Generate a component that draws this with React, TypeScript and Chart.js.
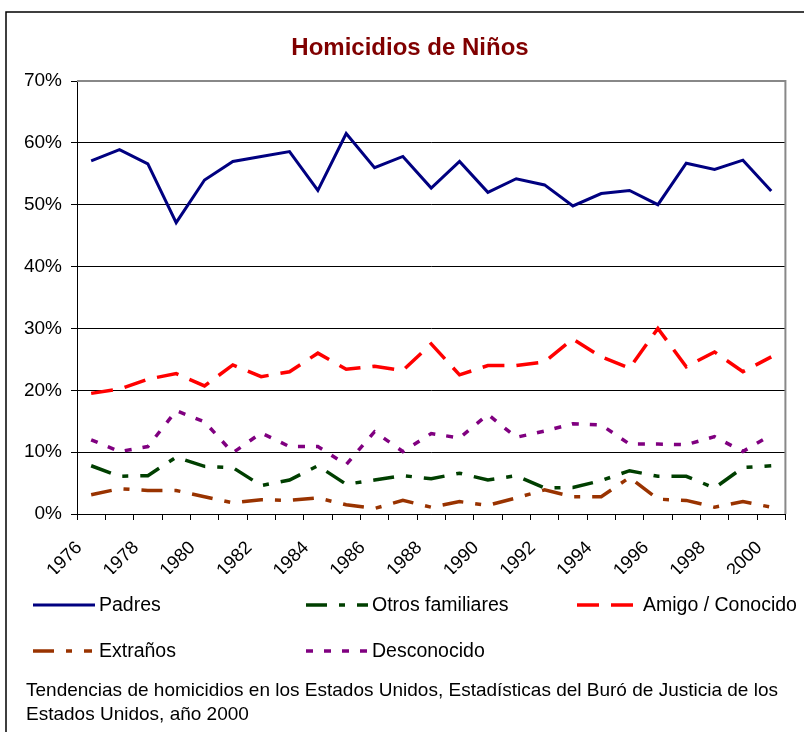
import React, { useEffect, useRef } from 'react';
import { Chart, registerables } from 'chart.js';

Chart.register(...registerables);

// ---- Data (percent of child homicides by relationship) ----
const years = [
  '1976', '1977', '1978', '1979', '1980', '1981', '1982', '1983', '1984', '1985',
  '1986', '1987', '1988', '1989', '1990', '1991', '1992', '1993', '1994', '1995',
  '1996', '1997', '1998', '1999', '2000',
];
const padres = [57.1, 58.9, 56.6, 47.1, 54.0, 57.0, 57.8, 58.6, 52.3, 61.5, 56.0, 57.8, 52.7, 57.0, 52.0, 54.2, 53.2, 49.8, 51.8, 52.3, 50.0, 56.7, 55.7, 57.2, 52.2];
const otrosFamiliares = [7.8, 6.1, 6.2, 9.2, 7.7, 7.5, 4.6, 5.5, 7.8, 4.8, 5.5, 6.2, 5.7, 6.6, 5.5, 6.2, 4.2, 4.3, 5.4, 7.0, 6.1, 6.1, 4.2, 7.5, 7.8];
const amigoConocido = [19.5, 20.2, 21.8, 22.7, 20.7, 24.1, 22.2, 23.0, 26.0, 23.4, 23.9, 23.2, 27.5, 22.5, 24.0, 24.0, 24.6, 28.3, 25.4, 23.6, 30.0, 23.8, 26.2, 23.0, 25.4];
const extranos = [3.1, 4.1, 3.8, 3.8, 2.8, 1.8, 2.3, 2.2, 2.6, 1.5, 0.9, 2.2, 1.1, 2.0, 1.4, 2.6, 3.9, 2.8, 2.8, 5.9, 2.4, 2.2, 1.1, 2.0, 1.1];
const desconocido = [12.0, 10.1, 10.9, 16.7, 14.9, 9.9, 13.1, 10.9, 10.9, 8.0, 13.3, 10.1, 13.0, 12.3, 16.1, 12.4, 13.4, 14.6, 14.4, 11.3, 11.3, 11.2, 12.5, 10.1, 12.8];

const seriesNames = ['Padres', 'Otros familiares', 'Amigo / Conocido', 'Extraños', 'Desconocido'];
const yTickMax = 70;
const yTickStep = 10;

const titleText = 'Homicidios de Niños';
const footnoteLines = [
  'Tendencias de homicidios en los Estados Unidos, Estadísticas del Buró de Justicia de los',
  'Estados Unidos, año 2000',
];

// ---- Styles ----
const FONT = '"Liberation Sans", Arial, Helvetica, sans-serif';
const styles = [
  { color: '#000080', width: 3, dash: [] as number[] },
  { color: '#003F00', width: 3.5, dash: [21, 12, 6, 12] },
  { color: '#FF0000', width: 3.5, dash: [22, 12] },
  { color: '#993300', width: 3.5, dash: [21, 12, 6, 12] },
  { color: '#800080', width: 3.5, dash: [7, 11] },
];
// legend layout: [lineStartX, lineEndX, centerY, textX]
const legendLayout = [
  [33, 95, 605, 99],
  [306, 368, 605, 372],
  [577, 634, 605, 643],
  [33, 92, 651, 99],
  [306, 368, 651, 372],
];

const decorPlugin = {
  id: 'decor',
  beforeDraw(chart: any) {
    const ctx = chart.ctx;
    ctx.save();
    ctx.fillStyle = '#ffffff';
    ctx.fillRect(0, 0, chart.width, chart.height);
    ctx.restore();
  },
  afterDraw(chart: any) {
    const ctx = chart.ctx;
    const a = chart.chartArea;
    ctx.save();
    // plot-area top/right border (gray)
    ctx.strokeStyle = '#888888';
    ctx.lineWidth = 2;
    ctx.setLineDash([]);
    ctx.beginPath();
    ctx.moveTo(a.left, a.top);
    ctx.lineTo(a.right, a.top);
    ctx.lineTo(a.right, a.bottom);
    ctx.stroke();

    // outer chart border
    ctx.strokeStyle = '#000000';
    ctx.lineWidth = 1.5;
    ctx.beginPath();
    ctx.moveTo(6, chart.height + 5);
    ctx.lineTo(6, 12);
    ctx.lineTo(chart.width + 5, 12);
    ctx.stroke();

    // title
    ctx.fillStyle = '#800000';
    ctx.font = `bold 24px ${FONT}`;
    ctx.textAlign = 'center';
    ctx.textBaseline = 'middle';
    ctx.fillText(titleText, 410, 48);

    // legend
    ctx.font = `19.5px ${FONT}`;
    ctx.textAlign = 'left';
    seriesNames.forEach((name, i) => {
      const [x1, x2, y, tx] = legendLayout[i];
      const st = styles[i];
      ctx.strokeStyle = st.color;
      ctx.lineWidth = st.width;
      ctx.lineCap = 'butt';
      ctx.setLineDash(st.dash);
      ctx.beginPath();
      ctx.moveTo(x1, y);
      ctx.lineTo(x2, y);
      ctx.stroke();
      ctx.setLineDash([]);
      ctx.fillStyle = '#000000';
      ctx.fillText(name, tx, y + 1);
    });

    // footnote
    ctx.font = `19px ${FONT}`;
    ctx.fillStyle = '#000000';
    footnoteLines.forEach((line, i) => {
      ctx.fillText(line, 26, 691 + i * 24);
    });
    ctx.restore();
  },
};

export default function App() {
  const ref = useRef<HTMLCanvasElement | null>(null);

  useEffect(() => {
    document.body.style.margin = '0';
    if (!ref.current) return;
    const seriesData = [padres, otrosFamiliares, amigoConocido, extranos, desconocido];
    const chart = new Chart(ref.current, {
      type: 'line',
      data: {
        labels: years,
        datasets: seriesNames.map((name, i) => ({
          label: name,
          data: seriesData[i],
          borderColor: styles[i].color,
          backgroundColor: styles[i].color,
          borderWidth: styles[i].width,
          borderDash: styles[i].dash,
          borderCapStyle: 'butt' as const,
          borderJoinStyle: 'miter' as const,
          pointRadius: 0,
          pointHoverRadius: 0,
          tension: 0,
          fill: false,
        })),
      },
      options: {
        responsive: false,
        maintainAspectRatio: false,
        animation: false,
        devicePixelRatio: 1,
        layout: { padding: { left: 0, right: 3, top: 81, bottom: 158 } },
        plugins: {
          legend: { display: false },
          title: { display: false },
          tooltip: { enabled: false },
        },
        scales: {
          x: {
            type: 'category',
            offset: true,
            afterFit: (scale: any) => { scale.height = 60; },
            grid: {
              display: true,
              drawOnChartArea: false,
              drawTicks: true,
              tickLength: 6,
              offset: true,
              color: '#000000',
              tickColor: '#000000',
            },
            border: { display: true, color: '#000000', width: 1 },
            ticks: {
              autoSkip: false,
              maxRotation: 45,
              minRotation: 45,
              padding: 17,
              labelOffset: -12,
              color: '#000000',
              font: { family: FONT, size: 18.5 },
              callback: (_v: any, i: number) => (i % 2 === 0 ? years[i] : ''),
            },
          },
          y: {
            min: 0,
            max: yTickMax,
            afterFit: (scale: any) => { scale.width = 77; },
            grid: {
              color: (c: any) => (c.tick && c.tick.value === yTickMax ? '#888888' : '#000000'),
              lineWidth: 1,
              drawTicks: true,
              tickLength: 6,
              tickColor: '#000000',
            },
            border: { display: true, color: '#000000', width: 1 },
            ticks: {
              stepSize: yTickStep,
              padding: 9,
              color: '#000000',
              font: { family: FONT, size: 19 },
              callback: (v: any) => `${v}%`,
            },
          },
        },
      },
      plugins: [decorPlugin],
    });
    return () => chart.destroy();
  }, []);

  return (
    <div style={{ position: 'absolute', left: 0, top: 0, width: 804, height: 732 }}>
      <canvas ref={ref} width={804} height={732} style={{ width: 804, height: 732, display: 'block' }} />
    </div>
  );
}
